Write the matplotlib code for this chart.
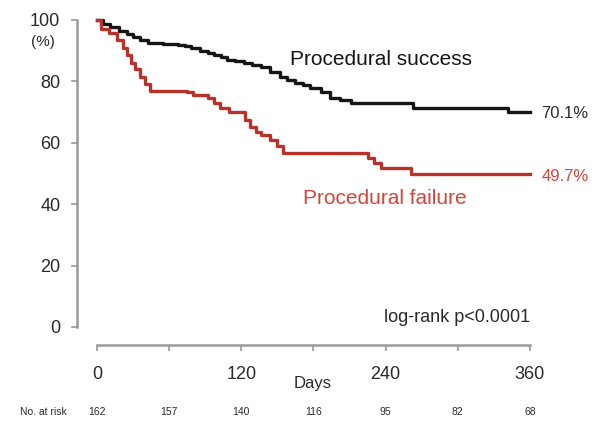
import matplotlib
matplotlib.use("Agg")
import matplotlib.pyplot as plt
import matplotlib.transforms as mtransforms

plt.rcParams['font.family'] = ['Liberation Sans', 'DejaVu Sans']

# Kaplan-Meier curves (days, survival %)
t_success = [0, 5, 11, 18, 25, 30, 36, 42, 55, 67, 73, 78, 86, 92, 97, 103, 108,
             115, 122, 129, 136, 144, 152, 158, 165, 171, 177, 186, 194, 202,
             211, 255, 263, 336, 342, 360]
s_success = [100, 98.8, 97.6, 96.5, 95.5, 94.5, 93.5, 92.5, 92.3, 92, 91.5, 91,
             90, 89.3, 88.5, 87.8, 87, 86.5, 86, 85.3, 84.7, 83, 81.4, 80.5,
             79.5, 78.8, 78, 76.5, 74.6, 73.8, 73, 73, 71.3, 71.3, 70.1, 70.1]

t_failure = [0, 3, 10, 17, 22, 25, 28, 32, 36, 40, 44, 75, 80, 92, 97, 102, 110,
             119, 123, 127, 132, 136, 144, 150, 155, 219, 225, 230, 236, 258, 261, 360]
s_failure = [100, 97, 95.8, 93.5, 91, 88.5, 86, 84, 81.4, 79, 77, 76.5, 75.5, 74.6,
             73, 71.3, 70, 70, 67.5, 65, 63.5, 62.5, 61, 59, 56.7, 56.7, 55, 53.4,
             51.8, 51.8, 49.7, 49.7]

risk_days = [0, 60, 120, 180, 240, 300, 360]
risk_success = [162, 157, 140, 116, 95, 82, 68]

x_ticks = [0, 60, 120, 180, 240, 300, 360]
x_labels = ['0', '', '120', '', '240', '', '360']
y_ticks = [0, 20, 40, 60, 80, 100]

BLACK = '#151515'
RED = '#b8322c'
RED_TXT = '#d2463c'
GREY = '#9a9a9a'
TXT = '#2a2a2a'

fig = plt.figure(figsize=(6.01, 4.25), dpi=100)
ax = fig.add_axes([0.128, 0.2306, 0.7537, 0.7224])

ax.step(t_success, s_success, where='post', color=BLACK, lw=2.4, clip_on=False)
ax.step(t_failure, s_failure, where='post', color=RED, lw=2.4, clip_on=False)

ax.set_xlim(-16.7, 360)
ax.set_ylim(0, 100)

for side in ['top', 'right']:
    ax.spines[side].set_visible(False)
ax.spines['left'].set_color(GREY)
ax.spines['bottom'].set_color(GREY)
ax.spines['left'].set_linewidth(1.8)
ax.spines['bottom'].set_linewidth(1.8)
ax.spines['left'].set_bounds(0, 100)
ax.spines['bottom'].set_bounds(0, 360)
ax.spines['bottom'].set_position(('outward', 13))

ax.set_yticks(y_ticks)
ax.set_xticks(x_ticks)
ax.set_xticklabels(x_labels)
ax.tick_params(axis='y', length=4, width=1.2, color=GREY, labelsize=13,
               labelcolor=TXT, pad=8)
ax.tick_params(axis='x', length=4, width=1.2, color=GREY, labelsize=13,
               labelcolor=TXT, pad=11)

# (%) under the 100 label
ax.text(-0.048, 0.928, '(%)', transform=ax.transAxes, ha='right', va='center',
        fontsize=11, color=TXT)

ax.text(0.47, 0.87, 'Procedural success', transform=ax.transAxes,
        fontsize=15, color=BLACK, ha='left', va='center')
ax.text(0.50, 0.42, 'Procedural failure', transform=ax.transAxes,
        fontsize=15, color=RED_TXT, ha='left', va='center')
ax.text(1.025, 0.695, '70.1%', transform=ax.transAxes, fontsize=12,
        color=TXT, ha='left', va='center')
ax.text(1.025, 0.49, '49.7%', transform=ax.transAxes, fontsize=12,
        color=RED_TXT, ha='left', va='center')
ax.text(1.0, 0.03, 'log-rank p<0.0001', transform=ax.transAxes, fontsize=13,
        color=TXT, ha='right', va='center')

fig.text(0.52, 0.097, 'Days', fontsize=12, color=TXT, ha='center', va='center')

# number at risk row
trans = mtransforms.blended_transform_factory(ax.transData, fig.transFigure)
fig.text(0.073, 0.03, 'No. at risk', fontsize=7.5, color=TXT, ha='center', va='center')
for d, n in zip(risk_days, risk_success):
    ax.text(d, 0.03, str(n), transform=trans, fontsize=7.5, color=TXT,
            ha='center', va='center', clip_on=False)

fig.savefig('out.png', dpi=100)
